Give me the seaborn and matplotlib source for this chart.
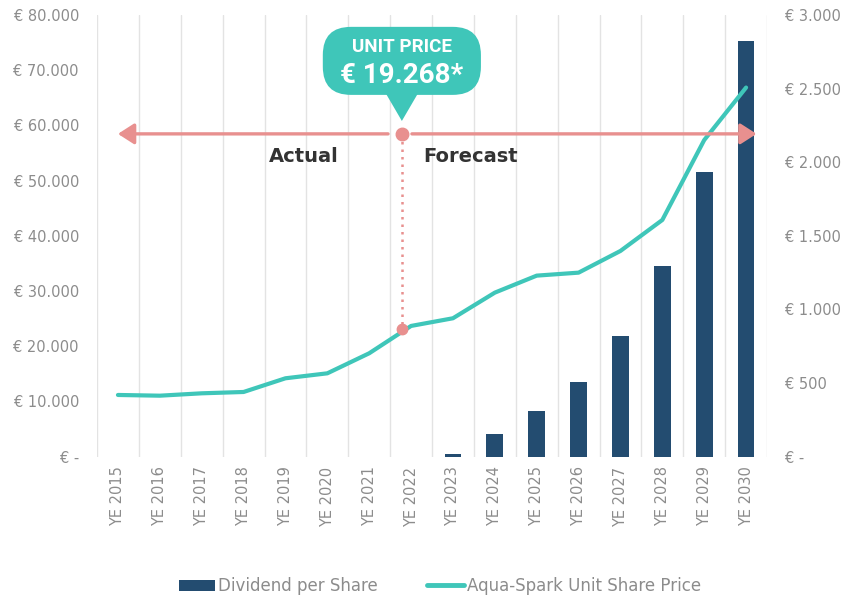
import numpy as np
import matplotlib
matplotlib.use("Agg")

import matplotlib.pyplot as plt
import pandas as pd
import seaborn as sns
from matplotlib.lines import Line2D
from matplotlib.patches import Patch, FancyBboxPatch, Polygon, FancyArrowPatch
from matplotlib.ticker import FuncFormatter


YEARS = ["YE 2015", "YE 2016", "YE 2017", "YE 2018", "YE 2019", "YE 2020",
         "YE 2021", "YE 2022", "YE 2023", "YE 2024", "YE 2025", "YE 2026",
         "YE 2027", "YE 2028", "YE 2029", "YE 2030"]
UNIT_PRICE = [11180, 11050, 11480, 11720, 14200, 15100, 18730, 23680,
              25070, 29710, 32790, 33330, 37260, 42870, 57340, 66850]
DIVIDEND = [0, 0, 0, 0, 0, 0, 0, 0,
            16, 154, 308, 507, 818, 1297, 1936, 2824]

# actual / forecast split marker (x in category index, y on left axis)
SPLIT_X = 6.78
ARROW_Y = 58460
SPLIT_LOW_Y = 23100

BAR_COLOR = "#234C70"
LINE_COLOR = "#3FC6B9"
ARROW_COLOR = "#E8908F"
TICK_COLOR = "#8C8C8C"


def euro(v, _pos):
    if v == 0:
        return "€ -"
    return "€ " + f"{int(round(v)):,}".replace(",", ".")


def main() -> None:
    sns.set_theme(style="white")
    plt.rcParams["font.family"] = ["DejaVu Sans"]

    df = pd.DataFrame({"year": YEARS, "idx": np.arange(len(YEARS)),
                       "price": UNIT_PRICE, "dividend": DIVIDEND})

    fig = plt.figure(figsize=(8.57, 5.97), dpi=100)
    ax = fig.add_axes([0.1132, 0.235, 0.7818, 0.74])
    ax2 = ax.twinx()

    # bars on the right axis
    sns.barplot(data=df, x="idx", y="dividend", ax=ax2, color=BAR_COLOR,
                width=0.4, linewidth=0, saturation=1, native_scale=True)
    # line on the left axis, drawn above the bars
    sns.lineplot(data=df, x="idx", y="price", ax=ax, color=LINE_COLOR,
                 linewidth=3, legend=False)
    ax.set_zorder(2)
    ax2.set_zorder(1)
    ax.patch.set_visible(False)

    n = len(YEARS)
    ax.set_xlim(-0.5, n - 0.5)
    ax.set_ylim(0, 80000)
    ax2.set_ylim(0, 3000)
    ax.set_yticks(np.arange(0, 80001, 10000))
    ax2.set_yticks(np.arange(0, 3001, 500))
    ax.yaxis.set_major_formatter(FuncFormatter(euro))
    ax2.yaxis.set_major_formatter(FuncFormatter(euro))
    ax.set_xticks(np.arange(n))
    ax.set_xticklabels(YEARS, rotation=90)
    ax.set_xlabel("")
    ax.set_ylabel("")
    ax2.set_ylabel("")

    ax.tick_params(axis="y", length=0, pad=13, labelsize=10.5, colors=TICK_COLOR)
    ax2.tick_params(axis="y", length=0, pad=13, labelsize=10.5, colors=TICK_COLOR)
    ax.tick_params(axis="x", length=0, pad=7, labelsize=10.5, colors=TICK_COLOR)
    for a in (ax, ax2):
        for s in a.spines.values():
            s.set_visible(False)

    # vertical separators between categories
    for b in np.arange(-0.5, n, 1.0):
        ax.axvline(b, color="#E3E3E3", linewidth=1, zorder=0)

    # actual / forecast arrows
    ax.add_patch(FancyArrowPatch((SPLIT_X - 0.33, ARROW_Y), (0.0, ARROW_Y),
                                 arrowstyle="-|>,head_length=0.7,head_width=0.45",
                                 mutation_scale=14, color=ARROW_COLOR,
                                 linewidth=2.4, shrinkA=0, shrinkB=0, zorder=5))
    ax.add_patch(FancyArrowPatch((SPLIT_X + 0.24, ARROW_Y), (15.25, ARROW_Y),
                                 arrowstyle="-|>,head_length=0.7,head_width=0.45",
                                 mutation_scale=14, color=ARROW_COLOR,
                                 linewidth=2.4, shrinkA=0, shrinkB=0, zorder=5))
    ax.plot([SPLIT_X, SPLIT_X], [ARROW_Y, SPLIT_LOW_Y], color=ARROW_COLOR,
            linestyle=(0, (1, 2)), linewidth=1.8, zorder=5)
    ax.plot([SPLIT_X], [ARROW_Y], "o", color=ARROW_COLOR, markersize=9, zorder=6)
    ax.plot([SPLIT_X], [SPLIT_LOW_Y], "o", color=ARROW_COLOR, markersize=7.5, zorder=6)

    ax.text(4.44, 54400, "Actual", ha="center", va="center", fontsize=14,
            fontweight="bold", color="#333333")
    ax.text(8.43, 54400, "Forecast", ha="center", va="center", fontsize=14,
            fontweight="bold", color="#333333")

    # unit price callout bubble
    aspect = 670 / 441.7
    bubble = FancyBboxPatch((0.337, 0.819), 0.236, 0.154,
                            boxstyle="round,pad=0,rounding_size=0.042",
                            mutation_aspect=aspect, transform=ax.transAxes,
                            facecolor=LINE_COLOR, edgecolor="none",
                            clip_on=False, zorder=7)
    ax.add_patch(bubble)
    ax.add_patch(Polygon([(0.430, 0.825), (0.480, 0.825), (0.455, 0.760)],
                         closed=True, transform=ax.transAxes,
                         facecolor=LINE_COLOR, edgecolor="none",
                         clip_on=False, zorder=7))
    ax.text(0.455, 0.927, "UNIT PRICE", transform=ax.transAxes, ha="center",
            va="center", fontsize=13.5, fontweight="bold", color="white",
            family=["Roboto", "DejaVu Sans"], zorder=8)
    ax.text(0.455, 0.864, "€ 19.268*", transform=ax.transAxes, ha="center",
            va="center", fontsize=20, fontweight="bold", color="white",
            family=["Roboto", "DejaVu Sans"], zorder=8)

    handles = [Patch(facecolor=BAR_COLOR, edgecolor="none", label="Dividend per Share"),
               Line2D([0], [0], color=LINE_COLOR, linewidth=3.5,
                      solid_capstyle="round", label="Aqua-Spark Unit Share Price")]
    fig.legend(handles=handles, loc="center", bbox_to_anchor=(0.513, 0.018),
               ncol=2, frameon=False, fontsize=12, handlelength=2.2,
               handletextpad=0.15, columnspacing=3.0, labelcolor=TICK_COLOR)

    fig.savefig("out.png", dpi=100)
    plt.close(fig)


if __name__ == "__main__":
    main()
